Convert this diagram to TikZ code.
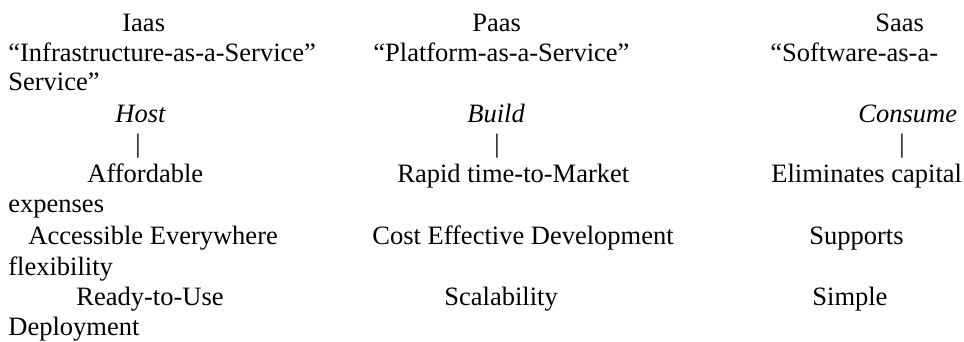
\documentclass[tikz,border=0pt]{standalone}
\usepackage{fontspec}
\setmainfont{Liberation Serif}
\usetikzlibrary{positioning}

\begin{document}
\begin{tikzpicture}[
    x=0.5pt, y=-0.5pt,
    txt/.style={anchor=base west, inner sep=0pt,
                font=\fontsize{13.25}{15}\selectfont},
    tag/.style={txt, font=\fontsize{13.25}{15}\selectfont\itshape},
    bar/.style={anchor=base, inner sep=0pt,
                font=\fontsize{13.25}{15}\selectfont}
]
  \useasboundingbox (0,0) rectangle (964,342);

  % Iaas column
  \node[txt] (iaas) at (122,32) {Iaas};
  \node[txt] (iaasfull) at (8,62) {“Infrastructure-as-a-Service”};
  \node[txt] (iaasrest) at (8,91) {Service”};
  \node[tag] (host) at (115,123) {Host};
  \node[bar] (hostbar) at (138,153) {|};
  \node[txt] (afford) at (87,183) {Affordable};
  \node[txt] (expenses) at (8,213) {expenses};
  \node[txt] (access) at (28,244) {Accessible Everywhere};
  \node[txt] (flex) at (8,275) {flexibility};
  \node[txt] (ready) at (76,305) {Ready-to-Use};
  \node[txt] (deploy) at (8,335) {Deployment};

  % Paas column
  \node[txt] (paas) at (472,32) {Paas};
  \node[txt] (paasfull) at (373,62) {“Platform-as-a-Service”};
  \node[tag] (build) at (467,123) {Build};
  \node[bar] (buildbar) at (497,153) {|};
  \node[txt] (rapid) at (397,183) {Rapid time-to-Market};
  \node[txt] (cost) at (372,244) {Cost Effective Development};
  \node[txt] (scale) at (444,305) {Scalability};

  % Saas column
  \node[txt] (saas) at (875,32) {Saas};
  \node[txt] (saasfull) at (770,62) {“Software-as-a-};
  \node[tag] (consume) at (858,123) {Consume};
  \node[bar] (consumebar) at (902,153) {|};
  \node[txt] (elim) at (771,183) {Eliminates capital};
  \node[txt] (supports) at (809,244) {Supports};
  \node[txt] (simple) at (812,305) {Simple};
\end{tikzpicture}
\end{document}
